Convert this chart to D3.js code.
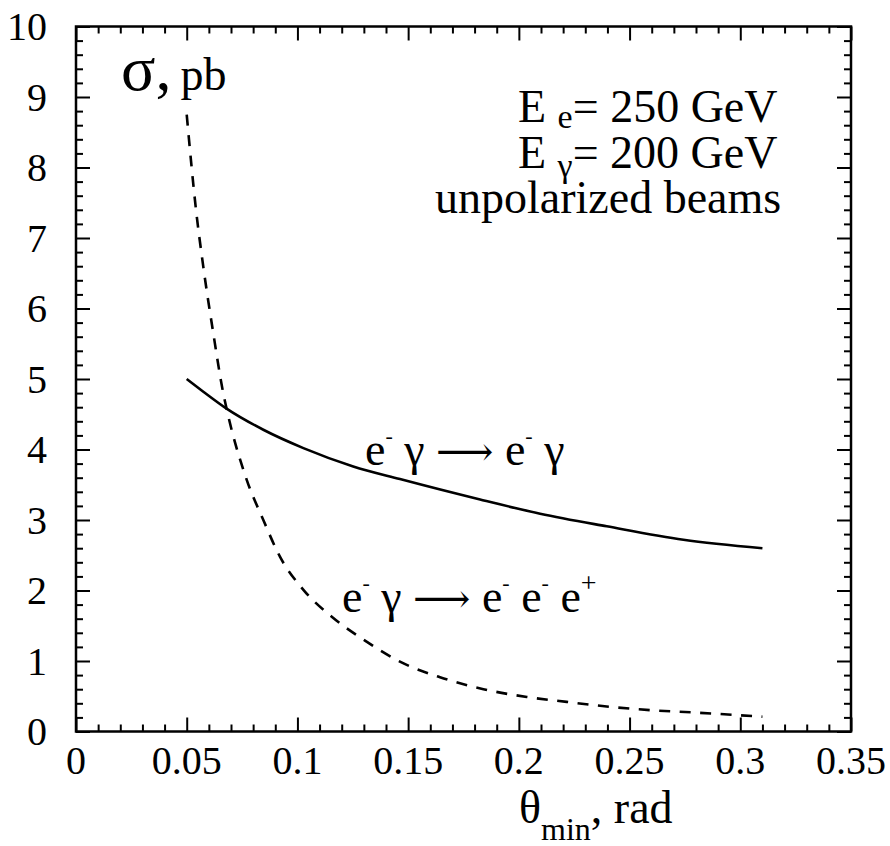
<!DOCTYPE html>
<html>
<head>
<meta charset="utf-8">
<script src="https://cdn.jsdelivr.net/npm/d3@7"></script>
<style>
  body { margin: 0; background: #fff; }
  svg, svg text { font-family: "Liberation Serif", "Times New Roman", Times, serif; fill: #000; }
</style>
</head>
<body>
<div id="chart"></div>
<script>
// e- gamma -> e- gamma (solid)
const thetaCompton = [0.05, 0.0575, 0.068, 0.0846, 0.1027, 0.1252, 0.1463, 0.1825, 0.2096, 0.2397, 0.2743, 0.31];
const sigmaCompton = [5.00, 4.82, 4.58, 4.28, 4.02, 3.76, 3.58, 3.29, 3.09, 2.91, 2.72, 2.60];

// e- gamma -> e- e- e+ (dashed)
const thetaPair = [0.05, 0.0542, 0.0575, 0.062, 0.0665, 0.068, 0.0771, 0.0846, 0.0921, 0.1027, 0.1162, 0.13,
                   0.1463, 0.1644, 0.184, 0.2036, 0.2216, 0.2412, 0.2607, 0.2788, 0.31];
const sigmaPair = [8.75, 7.40, 6.59, 5.65, 4.80, 4.58, 3.57, 3.00, 2.48, 2.01, 1.61, 1.30,
                   0.99, 0.77, 0.60, 0.49, 0.42, 0.35, 0.30, 0.27, 0.21];

const xTickLabels = ["0", "0.05", "0.1", "0.15", "0.2", "0.25", "0.3", "0.35"];
const yTickLabels = ["0", "1", "2", "3", "4", "5", "6", "7", "8", "9", "10"];

const SERIF = '"Liberation Serif", "Times New Roman", Times, serif';

const W = 890, H = 846;
const margin = { top: 26.5, right: 39, bottom: 114.5, left: 76 };

const svg = d3.select("#chart").append("svg")
    .attr("width", W)
    .attr("height", H)
    .attr("font-family", SERIF);

const x = d3.scaleLinear().domain([0, 0.35]).range([margin.left, W - margin.right]);
const y = d3.scaleLinear().domain([0, 10]).range([H - margin.bottom, margin.top]);

const xMajor = xTickLabels.map(Number);
const yMajor = yTickLabels.map(Number);
const xMinor = d3.range(0, 36).map(i => i / 100).filter(v => Math.round(v * 100) % 5 !== 0);
const yMinor = d3.range(0, 51).map(i => i / 5).filter((v, i) => i % 5 !== 0);

const x0 = x.range()[0], x1 = x.range()[1];
const y0 = y.range()[0], y1 = y.range()[1];

// ticks (all pointing inward)
function tickGroup(axisFn, scale, vals, size, transform) {
    svg.append("g")
        .attr("transform", transform)
        .call(axisFn(scale).tickValues(vals).tickSize(size).tickSizeOuter(0).tickFormat(""))
        .call(g => g.select(".domain").remove())
        .selectAll("line").attr("stroke", "#000").attr("stroke-width", 2);
}
tickGroup(d3.axisBottom, x, xMajor, -14, `translate(0,${y0})`);
tickGroup(d3.axisBottom, x, xMinor, -7, `translate(0,${y0})`);
tickGroup(d3.axisTop, x, xMajor, -14, `translate(0,${y1})`);
tickGroup(d3.axisTop, x, xMinor, -7, `translate(0,${y1})`);
tickGroup(d3.axisLeft, y, yMajor, -14, `translate(${x0},0)`);
tickGroup(d3.axisLeft, y, yMinor, -7, `translate(${x0},0)`);
tickGroup(d3.axisRight, y, yMajor, -14, `translate(${x1},0)`);
tickGroup(d3.axisRight, y, yMinor, -7, `translate(${x1},0)`);

// frame
svg.append("rect")
    .attr("x", x0).attr("y", y1)
    .attr("width", x1 - x0).attr("height", y0 - y1)
    .attr("fill", "none").attr("stroke", "#000").attr("stroke-width", 2.5);

// tick labels
svg.append("g").selectAll("text").data(xTickLabels).join("text")
    .attr("x", d => x(+d)).attr("y", y0 + 42)
    .attr("text-anchor", "middle").attr("font-size", 40)
    .text(d => d);

svg.append("g").selectAll("text").data(yTickLabels).join("text")
    .attr("x", x0 - 29).attr("y", d => y(+d))
    .attr("dy", "0.34em")
    .attr("text-anchor", "end").attr("font-size", 40)
    .text(d => d);

// curves
const line = (xs, ys) => d3.line()
    .x(i => x(xs[i])).y(i => y(ys[i]))
    .curve(d3.curveMonotoneX)(d3.range(xs.length));

svg.append("path")
    .attr("d", line(thetaCompton, sigmaCompton))
    .attr("fill", "none").attr("stroke", "#000").attr("stroke-width", 2.6);

svg.append("path")
    .attr("d", line(thetaPair, sigmaPair))
    .attr("fill", "none").attr("stroke", "#000").attr("stroke-width", 2.6)
    .attr("stroke-dasharray", "11 9.5");

// axis titles
const yTitle = svg.append("text").attr("x", 121).attr("y", 90);
yTitle.append("tspan").attr("font-size", 64).text("σ,");
yTitle.append("tspan").attr("font-size", 46).attr("dx", 9).text("pb");

const xTitle = svg.append("text").attr("x", 519).attr("y", 823).attr("font-size", 46);
xTitle.append("tspan").text("θ");
xTitle.append("tspan").attr("font-size", 32).attr("baseline-shift", -17).text("min");
xTitle.append("tspan").text(", rad");

// beam info
const info = svg.append("g").attr("font-size", 46);
const l1 = info.append("text").attr("x", 518).attr("y", 122);
l1.append("tspan").text("E ");
l1.append("tspan").attr("font-size", 34).attr("baseline-shift", -6).text("e");
l1.append("tspan").text("= 250 GeV");
const l2 = info.append("text").attr("x", 518).attr("y", 168);
l2.append("tspan").text("E ");
l2.append("tspan").attr("font-size", 34).attr("baseline-shift", -9).text("γ");
l2.append("tspan").text("= 200 GeV");
info.append("text").attr("x", 435).attr("y", 213).text("unpolarized beams");

// process labels
function processLabel(px, py, parts) {
    const t = svg.append("text").attr("x", px).attr("y", py).attr("font-size", 46);
    parts.forEach(p => {
        const s = t.append("tspan").text(p[0]);
        if (p[1] === "sup") s.attr("font-size", 22).attr("baseline-shift", 22);
        if (p[1] === "plus") s.attr("font-size", 28).attr("baseline-shift", 20);
        if (p[1] === "arrow") s.attr("font-family", '"DejaVu Serif", serif').attr("font-size", 40);
    });
}
processLabel(365, 465, [["e"], ["-", "sup"], [" γ "], ["⟶", "arrow"], [" e"], ["-", "sup"], [" γ"]]);
processLabel(342, 612, [["e"], ["-", "sup"], [" γ "], ["⟶", "arrow"], [" e"], ["-", "sup"], [" e"], ["-", "sup"], [" e"], ["+", "plus"]]);
</script>
</body>
</html>
